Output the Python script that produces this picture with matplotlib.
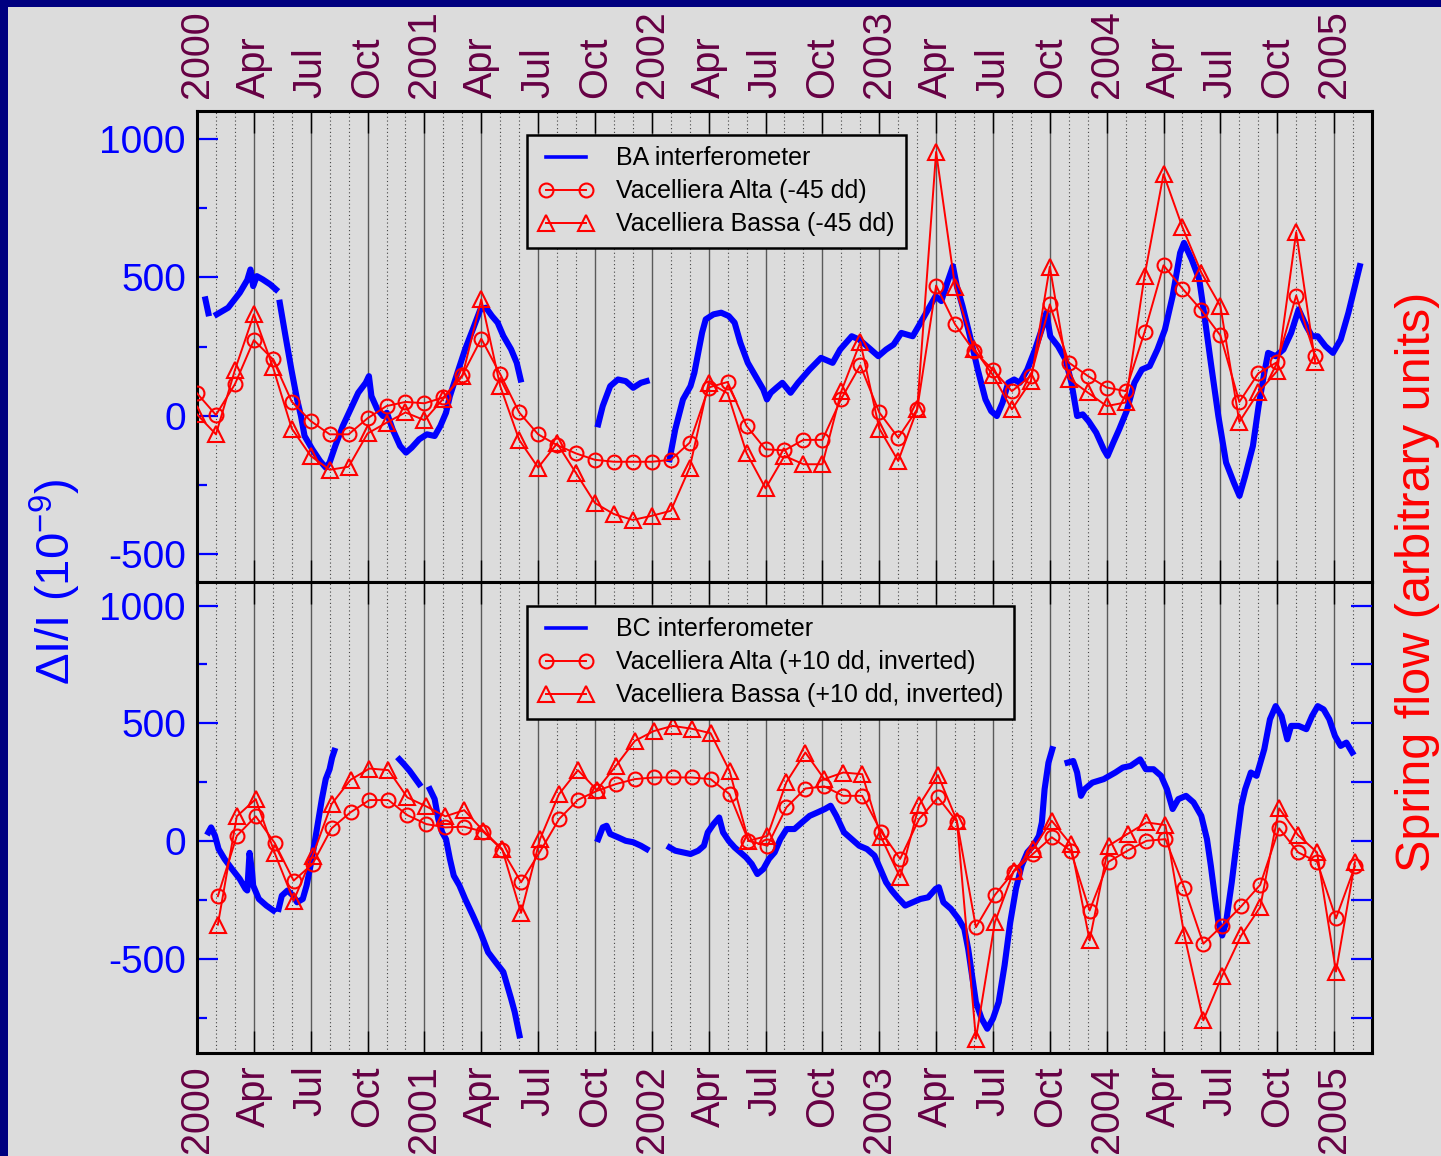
import numpy as np
import matplotlib
matplotlib.use('Agg')
import matplotlib.pyplot as plt
from matplotlib.patches import Rectangle
from matplotlib.lines import Line2D

plt.rcParams['font.family'] = ['Liberation Sans', 'DejaVu Sans']
plt.rcParams['axes.unicode_minus'] = False
plt.rcParams['mathtext.fontset'] = 'custom'
plt.rcParams['mathtext.rm'] = 'Liberation Sans'

nan = np.nan

# quarter tick labels (top and bottom)
tick_labels = ['2000', 'Apr', 'Jul', 'Oct',
               '2001', 'Apr', 'Jul', 'Oct',
               '2002', 'Apr', 'Jul', 'Oct',
               '2003', 'Apr', 'Jul', 'Oct',
               '2004', 'Apr', 'Jul', 'Oct',
               '2005']

# spring flow samples, one per month (month index counted from Jan 2000)
top_months = np.arange(0, 60)
alta_top = [81, 3, 114, 273, 204, 51, -19, -67, -67, -9,
            35, 50, 45, 66, 146, 278, 150, 12, -67, -106,
            -136, -159, -166, -166, -166, -159, -97, 102, 122, -37,
            -121, -125, -87, -87, 62, 182, 12, -79, 23, 470,
            330, 234, 165, 89, 144, 402, 192, 144, 102, 89,
            302, 543, 459, 381, 290, 50, 153, 194, 434, 216]
bassa_top = [5, -67, 165, 366, 177, -46, -145, -195, -184, -64,
             -25, 12, -16, 62, 143, 420, 107, -87, -187, -100,
             -207, -315, -355, -376, -361, -343, -187, 120, 81, -135,
             -262, -145, -175, -175, 89, 266, -46, -163, 23, 952,
             466, 242, 146, 23, 125, 538, 134, 84, 35, 48,
             506, 872, 680, 516, 396, -22, 84, 162, 663, 194]

bot_months = np.arange(1, 62)
bot_day = 4  # bottom samples fall a few days into the month
alta_bot = [-234, 22, 105, -8, -168, -97, 54, 122, 174, 174,
            110, 72, 58, 61, 40, -37, -175, -45, 93, 175,
            213, 242, 263, 270, 270, 270, 263, 199, 1, -20,
            143, 223, 232, 192, 192, 40, -76, 93, 185, 82,
            -366, -229, -130, -55, 16, -41, -295, -88, -41, 1,
            8, -199, -436, -359, -277, -186, 54, -48, -88, -328,
            -107]
bassa_bot = [-355, 105, 178, -51, -253, -62, 157, 260, 308, 301,
             185, 147, 105, 131, 44, -34, -305, 8, 199, 301,
             217, 319, 425, 467, 489, 477, 458, 298, 1, 22,
             250, 376, 263, 291, 284, 16, -154, 152, 280, 86,
             -839, -345, -126, -34, 86, -13, -422, -20, 30, 79,
             68, -401, -761, -571, -401, -281, 139, 25, -48, -554,
             -90]

# BA interferometer (decimal year, 1e-9)
ba_t = [2000.037, 2000.050, nan,
        2000.087, 2000.137, 2000.188, 2000.221, 2000.235, 2000.247, 2000.263, 2000.289, 2000.322, 2000.347, nan,
        2000.364, 2000.389, 2000.415, 2000.440, 2000.457, 2000.473, 2000.507, 2000.541, 2000.566, 2000.583,
        2000.608, 2000.641, 2000.675, 2000.709, 2000.742, 2000.756, 2000.767, 2000.793, 2000.818, 2000.835,
        2000.860, 2000.893, 2000.919, 2000.944, 2000.977, 2001.011, 2001.045, 2001.070, 2001.095, 2001.112,
        2001.145, 2001.179, 2001.213, 2001.246, 2001.271, 2001.297, 2001.322, 2001.347, 2001.381, 2001.406,
        2001.423, nan,
        2001.764, 2001.784, 2001.817, 2001.851, 2001.885, 2001.918, 2001.952, 2001.977, nan,
        2002.078, 2002.103, 2002.137, 2002.170, 2002.187, 2002.221, 2002.237, 2002.271, 2002.305, 2002.338,
        2002.364, 2002.389, 2002.422, 2002.456, 2002.490, 2002.506, 2002.523, 2002.548, 2002.574, 2002.610,
        2002.643, 2002.694, 2002.744, 2002.795, 2002.828, 2002.879, 2002.912, 2002.963, 2002.996, 2003.030,
        2003.063, 2003.097, 2003.147, 2003.181, 2003.215, 2003.248, 2003.273, 2003.299, 2003.324, 2003.341,
        2003.366, 2003.399, 2003.433, 2003.467, 2003.492, 2003.517, 2003.542, 2003.567, 2003.593, 2003.618,
        2003.651, 2003.685, 2003.719, 2003.735, 2003.752, 2003.786, 2003.819, 2003.845, 2003.870, 2003.895,
        2003.920, 2003.954, 2003.987, 2004.004, 2004.029, 2004.055, 2004.088, 2004.122, 2004.155, 2004.189,
        2004.223, 2004.256, 2004.290, 2004.323, 2004.340, 2004.374, 2004.407, 2004.424, 2004.458, 2004.491,
        2004.525, 2004.559, 2004.584, 2004.609, 2004.643, 2004.668, 2004.693, 2004.710, 2004.743, 2004.777,
        2004.811, 2004.844, 2004.878, 2004.903, 2004.928, 2004.962, 2004.995, 2005.029, 2005.063, 2005.088,
        2005.113]
ba_v = [420, 370, nan,
        366, 390, 444, 490, 528, 468, 504, 492, 474, 456, nan,
        408, 288, 167, 59, 0, -73, -121, -163, -187, -169,
        -109, -37, 23, 83, 119, 143, 71, 23, -1, 11,
        -49, -109, -133, -115, -85, -67, -73, -37, 11, 71,
        155, 240, 312, 384, 390, 360, 336, 288, 240, 191,
        131, nan,
        -31, 35, 107, 131, 125, 101, 119, 125, nan,
        -157, -49, 59, 107, 155, 300, 348, 366, 372, 360,
        336, 264, 191, 143, 95, 59, 83, 101, 119, 83,
        119, 167, 209, 191, 239, 287, 275, 239, 215, 239,
        257, 299, 287, 335, 384, 432, 414, 480, 540, 468,
        396, 287, 167, 59, 17, -1, 47, 119, 131, 119,
        167, 239, 323, 372, 287, 251, 203, 119, -1, 5,
        -19, -61, -121, -145, -97, -49, 17, 119, 167, 179,
        239, 311, 432, 588, 624, 564, 492, 396, 191, -1,
        -169, -241, -289, -217, -109, 35, 155, 227, 215, 239,
        299, 384, 323, 287, 287, 251, 227, 275, 372, 456,
        540]

# BC interferometer (decimal year, 1e-9)
bc_t = [2000.050, 2000.062, 2000.079, 2000.095, 2000.121, 2000.154, 2000.188, 2000.213, 2000.221, 2000.231,
        2000.242, 2000.247, 2000.272, 2000.305, 2000.336, nan,
        2000.359, 2000.373, 2000.398, 2000.423, 2000.440, 2000.465, 2000.482, 2000.499, 2000.515, 2000.532,
        2000.549, 2000.566, 2000.583, 2000.594, 2000.604, nan,
        2000.890, 2000.910, 2000.935, 2000.961, 2000.977, nan,
        2001.024, 2001.045, 2001.061, 2001.078, 2001.095, 2001.112, 2001.129, 2001.154, 2001.179, 2001.213,
        2001.246, 2001.280, 2001.313, 2001.347, 2001.381, 2001.397, 2001.418, nan,
        2001.764, 2001.784, 2001.801, 2001.817, 2001.851, 2001.885, 2001.918, 2001.952, 2001.977, nan,
        2002.078, 2002.103, 2002.137, 2002.170, 2002.204, 2002.229, 2002.246, 2002.271, 2002.296, 2002.313,
        2002.338, 2002.364, 2002.389, 2002.414, 2002.439, 2002.464, 2002.490, 2002.515, 2002.540, 2002.565,
        2002.593, 2002.627, 2002.660, 2002.694, 2002.727, 2002.761, 2002.786, 2002.811, 2002.845, 2002.879,
        2002.912, 2002.946, 2002.979, 2003.005, 2003.030, 2003.055, 2003.080, 2003.114, 2003.147, 2003.181,
        2003.215, 2003.248, 2003.262, 2003.282, 2003.315, 2003.349, 2003.374, 2003.391, 2003.408, 2003.425,
        2003.450, 2003.475, 2003.500, 2003.525, 2003.551, 2003.576, 2003.601, 2003.626, 2003.651, 2003.677,
        2003.702, 2003.715, 2003.727, 2003.744, 2003.761, nan,
        2003.828, 2003.853, 2003.870, 2003.887, 2003.903, 2003.937, 2003.987, 2004.038, 2004.071, 2004.105,
        2004.147, 2004.172, 2004.206, 2004.239, 2004.265, 2004.290, 2004.315, 2004.349, 2004.382, 2004.416,
        2004.441, 2004.458, 2004.475, 2004.491, 2004.508, 2004.525, 2004.550, 2004.575, 2004.592, 2004.609,
        2004.634, 2004.659, 2004.676, 2004.693, 2004.718, 2004.743, 2004.769, 2004.794, 2004.811, 2004.844,
        2004.878, 2004.903, 2004.928, 2004.954, 2004.979, 2005.004, 2005.029, 2005.054, 2005.080]
bc_v = [37, 58, 23, -34, -76, -119, -161, -203, -210, -50,
        -130, -189, -246, -274, -295, nan,
        -288, -232, -210, -232, -260, -246, -189, -105, -20, 79,
        178, 263, 305, 354, 383, nan,
        347, 326, 298, 263, 242, nan,
        220, 178, 93, 37, 8, -76, -147, -189, -246, -316,
        -387, -472, -514, -556, -669, -726, -825, nan,
        8, 58, 65, 30, 16, 1, -5, -20, -34, nan,
        -27, -41, -48, -55, -41, -20, 37, 72, 100, 37,
        1, -27, -48, -69, -97, -140, -119, -76, -48, 8,
        51, 51, 79, 107, 121, 136, 150, 107, 37, 8,
        -20, -34, -62, -119, -175, -210, -239, -274, -260, -246,
        -239, -203, -196, -260, -288, -331, -373, -458, -571, -684,
        -754, -797, -754, -684, -528, -345, -203, -105, -48, -20,
        22, 79, 220, 333, 390, nan,
        333, 340, 291, 192, 220, 248, 263, 291, 312, 319,
        347, 305, 305, 277, 220, 136, 178, 192, 164, 107,
        8, -105, -232, -345, -401, -345, -175, 22, 150, 220,
        291, 277, 333, 390, 517, 573, 531, 432, 489, 489,
        475, 531, 573, 559, 517, 446, 404, 418, 376]

BG = '#dcdcdc'
NAVY = '#000080'
MAROON = '#660044'

W, H = 1441, 1156
fig = plt.figure(figsize=(W / 100, H / 100), dpi=100)
fig.patch.set_facecolor(NAVY)
fig.patches.append(Rectangle((8 / W, 0), 1, 1 - 7 / H, transform=fig.transFigure,
                             facecolor=BG, edgecolor='none', zorder=-10))

left, width = 197 / W, 1175 / W
hgt = 471 / H
ax1 = fig.add_axes([left, (H - 582) / H, width, hgt])
ax2 = fig.add_axes([left, (H - 1053) / H, width, hgt])

quarters = 2000 + np.arange(len(tick_labels)) * 0.25
months = 2000 + np.arange(0, 63) / 12.0

for ax in (ax1, ax2):
    ax.set_facecolor(BG)
    ax.set_xlim(2000, 2005.16)
    for s in ax.spines.values():
        s.set_linewidth(2.2)
        s.set_color('black')
    ax.set_xticks(quarters)
    ax.set_xticklabels(tick_labels)
    ax.set_xticks(months, minor=True)
    ax.grid(True, which='major', axis='x', color='#5a5a5a', lw=1.0, ls='-')
    ax.grid(True, which='minor', axis='x', color='#444444', lw=0.8, ls=(0, (1, 2.4)))
    ax.tick_params(axis='x', which='major', direction='in', length=16, width=1.0,
                   color='black', top=True, bottom=True, labelsize=28.5,
                   labelcolor=MAROON, pad=9, labelrotation=90)
    ax.tick_params(axis='x', which='minor', length=0)
    ax.set_yticks([-500, 0, 500, 1000])
    ax.set_yticklabels(['-500', '0', '500', '1000'])
    ax.tick_params(axis='y', which='major', direction='in', length=15, width=1.6,
                   color='blue', labelcolor='blue', labelsize=28, pad=8)
    ax.tick_params(axis='y', which='minor', direction='in', length=7, width=1.6, color='blue')

ax1.set_ylim(-600, 1100)
ax1.set_yticks([-250, 250, 750], minor=True)
ax1.tick_params(axis='x', labeltop=True, labelbottom=False)
ax2.set_ylim(-900, 1100)
ax2.set_yticks([-750, -250, 250, 750], minor=True)
ax2.tick_params(axis='x', labeltop=False, labelbottom=True)

# right-hand ticks on lower panel
ax2r = ax2.twinx()
ax2r.set_ylim(-900, 1100)
ax2r.set_yticks(np.arange(-750, 1001, 250))
ax2r.tick_params(axis='y', direction='in', length=15, width=1.6, color='blue', labelright=False)
for s in ax2r.spines.values():
    s.set_visible(False)

red_kw = dict(color='red', lw=1.4, mfc='none', mew=1.5, zorder=3)

ax1.plot(ba_t, ba_v, color='blue', lw=4.4, zorder=2)
ax1.plot(2000 + top_months / 12.0, alta_top, marker='o', ms=10, **red_kw)
ax1.plot(2000 + top_months / 12.0, bassa_top, marker='^', ms=11, **red_kw)

bot_x = 2000 + (bot_months + (bot_day - 1) / 30.0) / 12.0
ax2.plot(bc_t, bc_v, color='blue', lw=4.4, zorder=2)
ax2.plot(bot_x, alta_bot, marker='o', ms=10, **red_kw)
ax2.plot(bot_x, bassa_bot, marker='^', ms=11, **red_kw)


def add_legend(ax, names):
    hs = [Line2D([], [], color='blue', lw=2.6),
          Line2D([], [], color='red', lw=1.4, marker='o', ms=10, mfc='none', mew=1.5),
          Line2D([], [], color='red', lw=1.4, marker='^', ms=11, mfc='none', mew=1.5)]
    leg = ax.legend(hs, names, loc='upper left', bbox_to_anchor=(0.2809, 0.949),
                    borderaxespad=0, fontsize=18, frameon=True, fancybox=False,
                    edgecolor='black', facecolor=BG, framealpha=1, borderpad=0.45,
                    labelspacing=0.36, handlelength=2.2, handletextpad=0.9, numpoints=2)
    leg.get_frame().set_linewidth(1.8)
    leg.set_zorder(5)


add_legend(ax1, ['BA interferometer', 'Vacelliera Alta (-45 dd)', 'Vacelliera Bassa (-45 dd)'])
add_legend(ax2, ['BC interferometer', 'Vacelliera Alta (+10 dd, inverted)',
                 'Vacelliera Bassa (+10 dd, inverted)'])

fig.text(55 / W, (H - 582) / H, r'ΔI/I (10$^{\mathregular{-9}}$)', rotation=90,
         color='blue', fontsize=34, ha='center', va='center')
fig.text(1417 / W, (H - 582) / H, 'Spring flow (arbitrary units)', rotation=90,
         color='red', fontsize=35, ha='center', va='center')

fig.savefig('out.png', dpi=100, facecolor=fig.get_facecolor())
